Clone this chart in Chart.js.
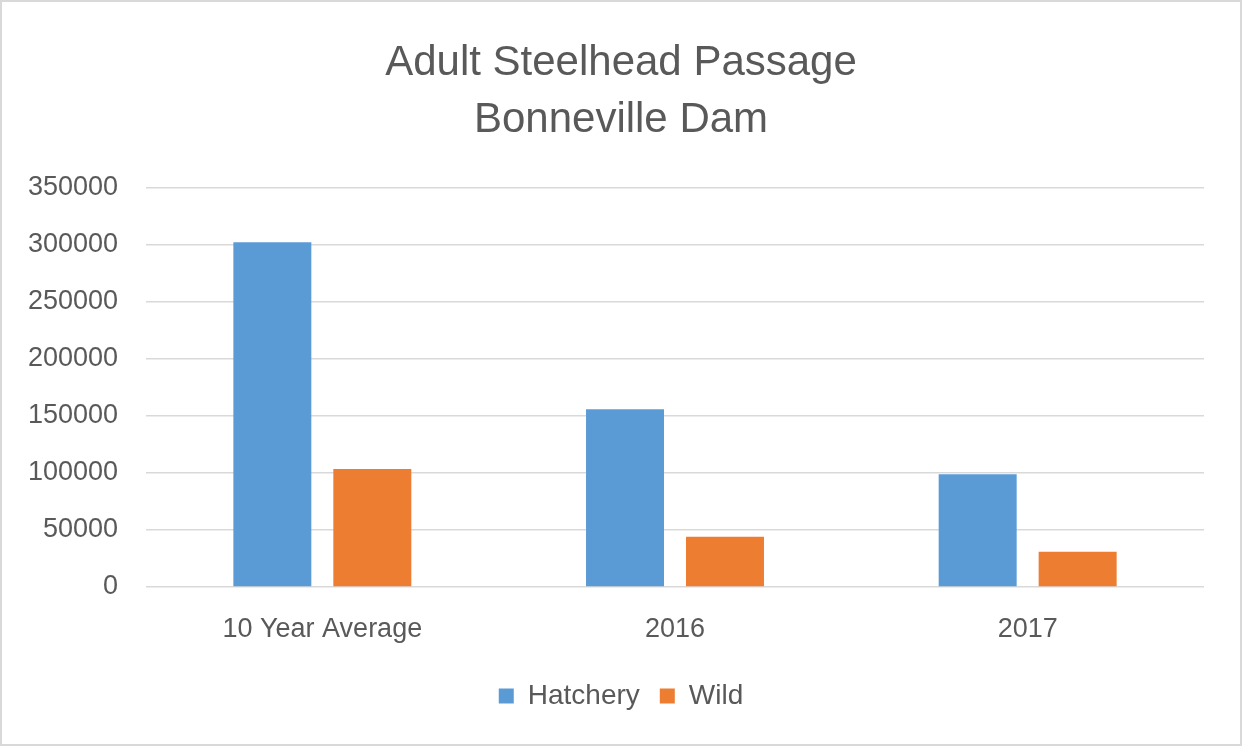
<!DOCTYPE html>
<html>
<head>
<meta charset="utf-8">
<script src="https://cdn.jsdelivr.net/npm/chart.js@4.4.0/dist/chart.umd.min.js"></script>
<style>
  html, body { margin: 0; padding: 0; background: #fff; }
  #wrap { position: relative; width: 1242px; height: 746px; }
  #frame { position: absolute; left: 0; top: 0; width: 1242px; height: 746px; box-sizing: border-box; border: 2px solid #d9d9d9; pointer-events: none; }
</style>
</head>
<body>
<div id="wrap">
  <canvas id="c" width="1242" height="746"></canvas>
  <div id="frame"></div>
</div>
<script>
const titleLines = ["Adult Steelhead Passage", "Bonneville Dam"];
const categories = ["10 Year Average", "2016", "2017"];
const seriesNames = ["Hatchery", "Wild"];
const hatchery = [302500, 156000, 99000];
const wild = [103500, 44000, 31000];
const yMin = 0, yMax = 350000, yStep = 50000;

const textColor = "#595959";
const fontFamily = "'Liberation Sans', Arial, sans-serif";

new Chart(document.getElementById("c"), {
  type: "bar",
  data: {
    labels: categories,
    datasets: [
      { label: seriesNames[0], data: hatchery, backgroundColor: "#5B9BD5", borderWidth: 0 },
      { label: seriesNames[1], data: wild, backgroundColor: "#ED7D31", borderWidth: 0 }
    ]
  },
  options: {
    responsive: false,
    animation: false,
    devicePixelRatio: 1,
    layout: { padding: { left: 0, right: 0, top: 0, bottom: 26 } },
    datasets: { bar: { categoryPercentage: 0.567, barPercentage: 0.78 } },
    plugins: {
      title: {
        display: true,
        text: titleLines,
        color: textColor,
        font: { family: fontFamily, size: 42, weight: "normal", lineHeight: 1.357 },
        padding: { top: 35, bottom: 39 }
      },
      legend: {
        position: "bottom",
        labels: {
          color: textColor,
          font: { family: fontFamily, size: 28 },
          boxWidth: 15,
          boxHeight: 15,
          padding: 20
        }
      },
      tooltip: { enabled: false }
    },
    scales: {
      x: {
        grid: { display: false, drawTicks: false },
        border: { display: false },
        ticks: { color: textColor, font: { family: fontFamily, size: 27 }, padding: 26 },
        afterFit: (s) => { s.height = 75; }
      },
      y: {
        min: yMin, max: yMax,
        grid: { color: "#D9D9D9", lineWidth: 1.5, drawTicks: false },
        border: { display: false },
        ticks: {
          stepSize: yStep, color: textColor, font: { family: fontFamily, size: 27 }, padding: 28,
          callback: (v) => String(v)
        },
        afterFit: (s) => { s.width = 146; }
      },
      yRight: {
        position: "right",
        display: true,
        grid: { display: false, drawTicks: false },
        border: { display: false },
        ticks: { display: false },
        afterFit: (s) => { s.width = 38; }
      }
    }
  }
});
</script>
</body>
</html>
